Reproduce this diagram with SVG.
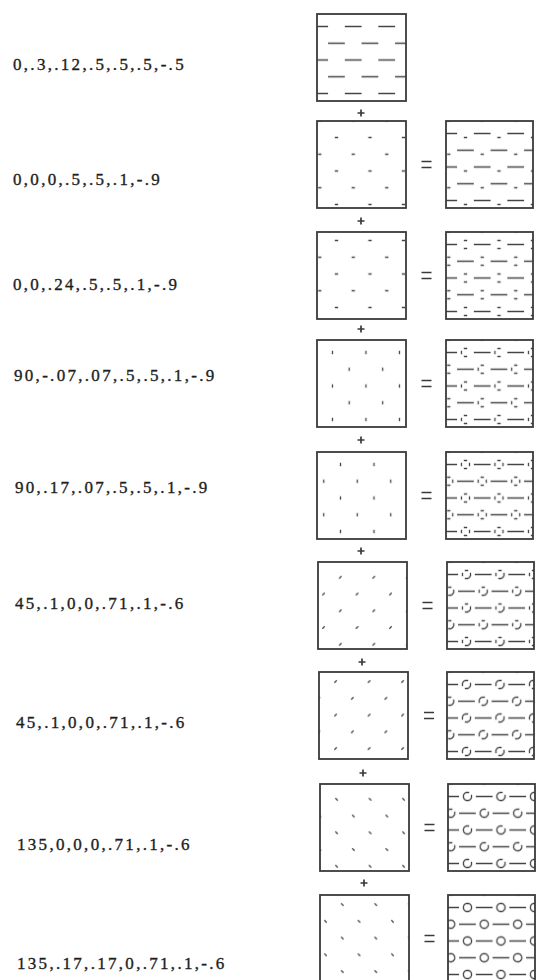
<svg xmlns="http://www.w3.org/2000/svg" width="536" height="980" viewBox="0 0 536 980">
<style>
.lbl{font-family:"Liberation Serif","Times New Roman",serif;font-size:17px;letter-spacing:2.3px;fill:#1e1e1e;stroke:#1e1e1e;stroke-width:0.35}
.frame{fill:none;stroke:#3a3a3a;stroke-width:1.8}
.mk{stroke:#454545;stroke-width:1.3;fill:none}
.op{stroke:#3a3a3a;stroke-width:1.7;fill:none}
</style>
<defs>
<pattern id="p1" patternUnits="userSpaceOnUse" width="33.5" height="33.5" patternTransform="translate(27.825,4.125)"><path class="mk" d="M0 8.375H16.75M16.75 25.125H33.5"/></pattern>
<pattern id="p2" patternUnits="userSpaceOnUse" width="33.5" height="33.5" patternTransform="translate(11.125,8.125)"><path class="mk" d="M6.7 8.375h3.35M23.45 25.125h3.35"/></pattern>
<pattern id="p3" patternUnits="userSpaceOnUse" width="33.5" height="33.5" patternTransform="translate(11.125,0.125)"><path class="mk" d="M6.7 8.375h3.35M23.45 25.125h3.35"/></pattern>
<pattern id="p4" patternUnits="userSpaceOnUse" width="33.5" height="33.5" patternTransform="translate(7.075,4.125)"><path class="mk" d="M8.375 6.7v3.35M25.125 23.45v3.35"/></pattern>
<pattern id="p5" patternUnits="userSpaceOnUse" width="33.5" height="33.5" patternTransform="translate(15.125,4.125)"><path class="mk" d="M8.375 6.7v3.35M25.125 23.45v3.35"/></pattern>
<pattern id="p6" patternUnits="userSpaceOnUse" width="33.5" height="33.5" patternTransform="translate(13.925,6.925)"><path class="mk" d="M7.19 9.56l2.37-2.37M23.94 26.31l2.37-2.37"/></pattern>
<pattern id="p7" patternUnits="userSpaceOnUse" width="33.5" height="33.5" patternTransform="translate(8.225,1.225)"><path class="mk" d="M7.19 9.56l2.37-2.37M23.94 26.31l2.37-2.37"/></pattern>
<pattern id="p8" patternUnits="userSpaceOnUse" width="33.5" height="33.5" patternTransform="translate(8.225,6.925)"><path class="mk" d="M7.19 7.19l2.37 2.37M23.94 23.94l2.37 2.37"/></pattern>
<pattern id="p9" patternUnits="userSpaceOnUse" width="33.5" height="33.5" patternTransform="translate(13.925,1.225)"><path class="mk" d="M7.19 7.19l2.37 2.37M23.94 23.94l2.37 2.37"/></pattern>
</defs>
<rect width="536" height="980" fill="#ffffff"/>

<g id="labels">
<text class="lbl" x="13" y="70">0,.3,.12,.5,.5,.5,-.5</text>
<text class="lbl" x="13" y="185">0,0,0,.5,.5,.1,-.9</text>
<text class="lbl" x="13" y="290">0,0,.24,.5,.5,.1,-.9</text>
<text class="lbl" x="14" y="381">90,-.07,.07,.5,.5,.1,-.9</text>
<text class="lbl" x="15" y="493">90,.17,.07,.5,.5,.1,-.9</text>
<text class="lbl" x="15" y="609">45,.1,0,0,.71,.1,-.6</text>
<text class="lbl" x="16" y="728">45,.1,0,0,.71,.1,-.6</text>
<text class="lbl" x="17" y="850">135,0,0,0,.71,.1,-.6</text>
<text class="lbl" x="17" y="969">135,.17,.17,0,.71,.1,-.6</text>
</g>

<g id="box1" transform="translate(317,14)"><rect width="89" height="87" fill="url(#p1)"/><rect class="frame" width="89" height="87"/></g>
<g id="box2" transform="translate(317,121)"><rect width="89" height="87" fill="url(#p2)"/><rect class="frame" width="89" height="87"/></g>
<g id="box3" transform="translate(317,232)"><rect width="89" height="87" fill="url(#p3)"/><rect class="frame" width="89" height="87"/></g>
<g id="box4" transform="translate(317,340)"><rect width="89" height="87" fill="url(#p4)"/><rect class="frame" width="89" height="87"/></g>
<g id="box5" transform="translate(317,452)"><rect width="89" height="87" fill="url(#p5)"/><rect class="frame" width="89" height="87"/></g>
<g id="box6" transform="translate(318,562)"><rect width="89" height="87" fill="url(#p6)"/><rect class="frame" width="89" height="87"/></g>
<g id="box7" transform="translate(319,672)"><rect width="89" height="87" fill="url(#p7)"/><rect class="frame" width="89" height="87"/></g>
<g id="box8" transform="translate(320,784)"><rect width="89" height="87" fill="url(#p8)"/><rect class="frame" width="89" height="87"/></g>
<g id="box9" transform="translate(320,895)"><rect width="89" height="87" fill="url(#p9)"/><rect class="frame" width="89" height="87"/></g>

<g id="sum2" transform="translate(446,121)"><rect width="87" height="87" fill="url(#p1)"/><rect width="87" height="87" fill="url(#p2)"/><rect class="frame" width="87" height="87"/></g>
<g id="sum3" transform="translate(446,232)"><rect width="87" height="87" fill="url(#p1)"/><rect width="87" height="87" fill="url(#p2)"/><rect width="87" height="87" fill="url(#p3)"/><rect class="frame" width="87" height="87"/></g>
<g id="sum4" transform="translate(446,340)"><rect width="87" height="87" fill="url(#p1)"/><rect width="87" height="87" fill="url(#p2)"/><rect width="87" height="87" fill="url(#p3)"/><rect width="87" height="87" fill="url(#p4)"/><rect class="frame" width="87" height="87"/></g>
<g id="sum5" transform="translate(446,452)"><rect width="87" height="87" fill="url(#p1)"/><rect width="87" height="87" fill="url(#p2)"/><rect width="87" height="87" fill="url(#p3)"/><rect width="87" height="87" fill="url(#p4)"/><rect width="87" height="87" fill="url(#p5)"/><rect class="frame" width="87" height="87"/></g>
<g id="sum6" transform="translate(447,562)"><rect width="87" height="87" fill="url(#p1)"/><rect width="87" height="87" fill="url(#p2)"/><rect width="87" height="87" fill="url(#p3)"/><rect width="87" height="87" fill="url(#p4)"/><rect width="87" height="87" fill="url(#p5)"/><rect width="87" height="87" fill="url(#p6)"/><rect class="frame" width="87" height="87"/></g>
<g id="sum7" transform="translate(447,672)"><rect width="87" height="87" fill="url(#p1)"/><rect width="87" height="87" fill="url(#p2)"/><rect width="87" height="87" fill="url(#p3)"/><rect width="87" height="87" fill="url(#p4)"/><rect width="87" height="87" fill="url(#p5)"/><rect width="87" height="87" fill="url(#p6)"/><rect width="87" height="87" fill="url(#p7)"/><rect class="frame" width="87" height="87"/></g>
<g id="sum8" transform="translate(448,784)"><rect width="87" height="87" fill="url(#p1)"/><rect width="87" height="87" fill="url(#p2)"/><rect width="87" height="87" fill="url(#p3)"/><rect width="87" height="87" fill="url(#p4)"/><rect width="87" height="87" fill="url(#p5)"/><rect width="87" height="87" fill="url(#p6)"/><rect width="87" height="87" fill="url(#p7)"/><rect width="87" height="87" fill="url(#p8)"/><rect class="frame" width="87" height="87"/></g>
<g id="sum9" transform="translate(448,895)"><rect width="87" height="87" fill="url(#p1)"/><rect width="87" height="87" fill="url(#p2)"/><rect width="87" height="87" fill="url(#p3)"/><rect width="87" height="87" fill="url(#p4)"/><rect width="87" height="87" fill="url(#p5)"/><rect width="87" height="87" fill="url(#p6)"/><rect width="87" height="87" fill="url(#p7)"/><rect width="87" height="87" fill="url(#p8)"/><rect width="87" height="87" fill="url(#p9)"/><rect class="frame" width="87" height="87"/></g>

<g id="operators">
<path class="op" d="M357.5 113h7M361 109.5v7"/>
<path class="op" d="M357.5 221h7M361 217.5v7"/>
<path class="op" d="M357.5 329h7M361 325.5v7"/>
<path class="op" d="M357.5 440h7M361 436.5v7"/>
<path class="op" d="M357.5 551h7M361 547.5v7"/>
<path class="op" d="M358.5 662h7M362 658.5v7"/>
<path class="op" d="M359.5 773h7M363 769.5v7"/>
<path class="op" d="M360.5 883h7M364 879.5v7"/>
<path class="op" d="M421.5 161.5h10M421.5 167.5h10"/>
<path class="op" d="M421.5 272.5h10M421.5 278.5h10"/>
<path class="op" d="M421.5 380.5h10M421.5 386.5h10"/>
<path class="op" d="M421.5 492.5h10M421.5 498.5h10"/>
<path class="op" d="M422.5 602.5h10M422.5 608.5h10"/>
<path class="op" d="M424 712.5h10M424 718.5h10"/>
<path class="op" d="M424.5 824.5h10M424.5 830.5h10"/>
<path class="op" d="M424.5 935.5h10M424.5 941.5h10"/>
</g>
</svg>
